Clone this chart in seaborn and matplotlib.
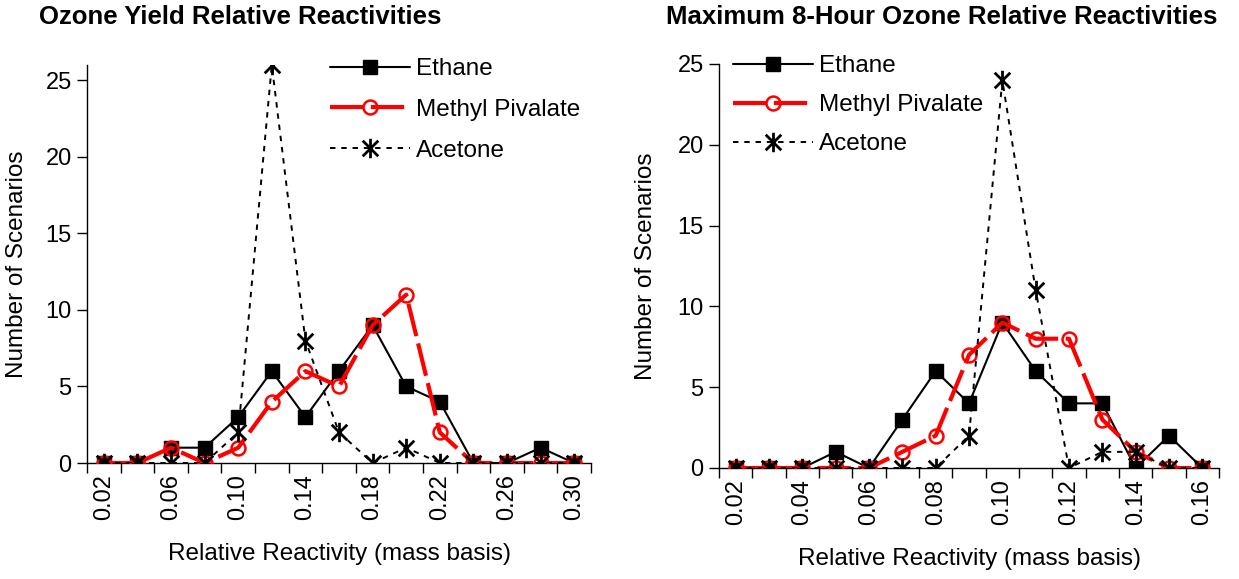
import matplotlib
matplotlib.use("Agg")
import matplotlib.pyplot as plt
from matplotlib.path import Path
import seaborn as sns
import numpy as np
import pandas as pd

# ---------------- data ----------------
left_x_labels = ["0.02", "0.04", "0.06", "0.08", "0.10", "0.12", "0.14", "0.16",
                 "0.18", "0.20", "0.22", "0.24", "0.26", "0.28", "0.30"]
left_ethane = [0, 0, 1, 1, 3, 6, 3, 6, 9, 5, 4, 0, 0, 1, 0]
left_methyl_pivalate = [0, 0, 1, 0, 1, 4, 6, 5, 9, 11, 2, 0, 0, 0, 0]
left_acetone = [0, 0, 0, 0, 2, 26, 8, 2, 0, 1, 0, 0, 0, 0, 0]

right_x_labels = ["0.02", "0.03", "0.04", "0.05", "0.06", "0.07", "0.08", "0.09",
                  "0.10", "0.11", "0.12", "0.13", "0.14", "0.15", "0.16"]
right_ethane = [0, 0, 0, 1, 0, 3, 6, 4, 9, 6, 4, 4, 0, 2, 0]
right_methyl_pivalate = [0, 0, 0, 0, 0, 1, 2, 7, 9, 8, 8, 3, 1, 0, 0]
right_acetone = [0, 0, 0, 0, 0, 0, 0, 2, 24, 11, 0, 1, 1, 0, 0]

left_title = "Ozone Yield Relative Reactivities"
right_title = "Maximum 8-Hour Ozone Relative Reactivities"
x_label = "Relative Reactivity (mass basis)"
y_label = "Number of Scenarios"
series_names = ["Ethane", "Methyl Pivalate", "Acetone"]

# ---------------- style ----------------
sns.set_theme(style="white")
plt.rcParams["font.family"] = ["Liberation Sans", "DejaVu Sans"]
plt.rcParams["text.color"] = "black"
plt.rcParams["axes.labelcolor"] = "black"
plt.rcParams["xtick.color"] = "black"
plt.rcParams["ytick.color"] = "black"

# asterisk marker: vertical bar plus an X
_a = 0.8
asterisk = Path(
    [(0, -1), (0, 1), (-_a, -_a), (_a, _a), (-_a, _a), (_a, -_a)],
    [Path.MOVETO, Path.LINETO, Path.MOVETO, Path.LINETO, Path.MOVETO, Path.LINETO],
)

fig = plt.figure(figsize=(12.39, 5.79), dpi=100)
ax_l = fig.add_axes([87 / 1239, (579 - 463) / 579, 504 / 1239, 398 / 579])
ax_r = fig.add_axes([719 / 1239, (579 - 468) / 579, 500 / 1239, 404 / 579])

TICK_FS = 17
LABEL_FS = 17.5
LEG_FS = 17.5


def draw(ax, labels, eth, mp, ace, ymax, leg_xy, spacing):
    idx = np.arange(len(labels))
    df = pd.DataFrame({"pos": idx, "Ethane": eth, "Methyl Pivalate": mp, "Acetone": ace})

    sns.lineplot(data=df, x="pos", y="Ethane", ax=ax, color="black",
                 linewidth=1.5, marker="s", markersize=10,
                 markerfacecolor="black", markeredgecolor="black",
                 markeredgewidth=1, label="Ethane", zorder=3)
    sns.lineplot(data=df, x="pos", y="Methyl Pivalate", ax=ax, color="#ff0000",
                 linewidth=3.0, linestyle=(0, (8, 1.8)), marker="o", markersize=10,
                 markerfacecolor="none", markeredgecolor="#ff0000",
                 markeredgewidth=1.8, label="Methyl Pivalate", zorder=4)
    sns.lineplot(data=df, x="pos", y="Acetone", ax=ax, color="black",
                 linewidth=1.4, linestyle=(0, (2.8, 3)), marker=asterisk, markersize=14,
                 markerfacecolor="black", markeredgecolor="black",
                 markeredgewidth=2.0, label="Acetone", zorder=5)

    ax.set_xlim(-0.5, len(labels) - 0.5)
    ax.set_ylim(0, ymax)
    ax.set_yticks([0, 5, 10, 15, 20, 25])
    ax.set_xticks(idx[::2])
    ax.set_xticklabels(labels[::2], rotation=90)
    ax.set_xticks(np.arange(len(labels) + 1) - 0.5, minor=True)
    ax.tick_params(axis="x", which="major", length=0, pad=8, labelsize=TICK_FS)
    ax.tick_params(axis="x", which="minor", length=7, width=1, color="black",
                   direction="out", bottom=True)
    ax.tick_params(axis="y", which="major", length=7, width=1, color="black",
                   direction="out", left=True, labelsize=TICK_FS, pad=4)
    for s in ["top", "right"]:
        ax.spines[s].set_visible(False)
    for s in ["left", "bottom"]:
        ax.spines[s].set_color("black")
        ax.spines[s].set_linewidth(1)
    ax.grid(False)
    ax.set_xlabel(x_label, fontsize=LABEL_FS)
    ax.set_ylabel(y_label, fontsize=LABEL_FS)

    handles, lbls = ax.get_legend_handles_labels()
    ax.legend(handles, lbls, loc="upper left", bbox_to_anchor=leg_xy,
              bbox_transform=fig.transFigure, frameon=False,
              fontsize=LEG_FS, handlelength=3.3, handletextpad=0.22,
              labelspacing=spacing, borderpad=0, borderaxespad=0)


draw(ax_l, left_x_labels, left_ethane, left_methyl_pivalate, left_acetone, 26,
     (330 / 1239, 1 - 58 / 579), 0.78)
draw(ax_r, right_x_labels, right_ethane, right_methyl_pivalate, right_acetone, 25,
     (733 / 1239, 1 - 55 / 579), 0.70)

ax_l.xaxis.set_label_coords(0.5, -0.2)
ax_r.xaxis.set_label_coords(0.5, -0.198)
ax_l.yaxis.set_label_coords(-0.117, 0.5)
ax_r.yaxis.set_label_coords(-0.124, 0.5)

fig.text(240 / 1239, 1 - 5 / 579, left_title, ha="center", va="top",
         fontsize=18.5, fontweight="bold")
fig.text(942 / 1239, 1 - 5 / 579, right_title, ha="center", va="top",
         fontsize=18.5, fontweight="bold")

fig.savefig("out.png", dpi=100)
